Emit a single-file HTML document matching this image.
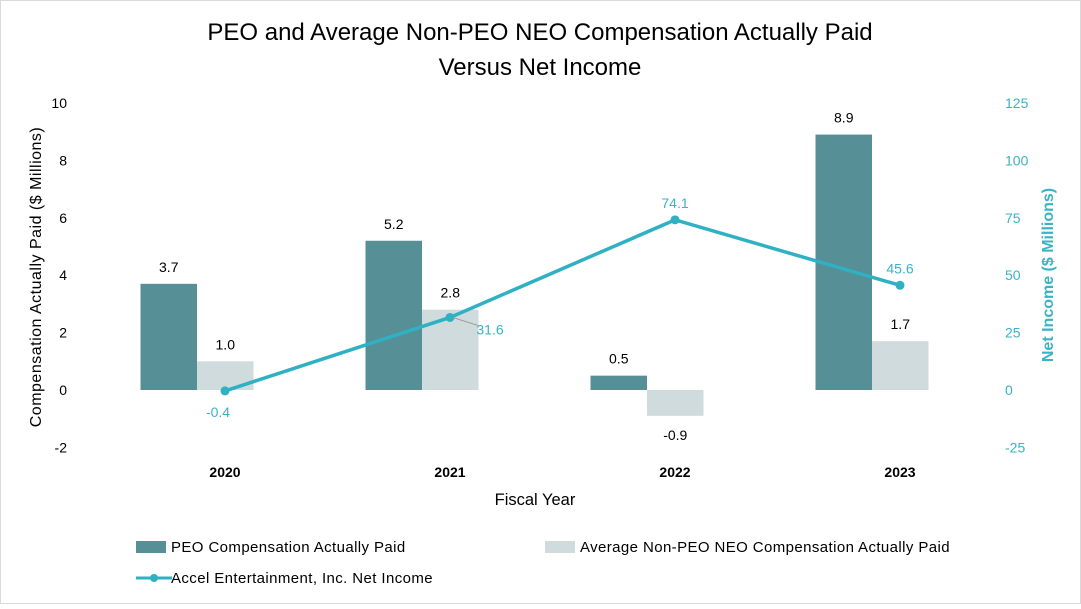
<!DOCTYPE html>
<html><head><meta charset="utf-8"><style>
body{margin:0;background:#fff;font-family:"Liberation Sans",Arial,sans-serif}
svg text{font-family:"Liberation Sans",Arial,sans-serif}
</style></head><body>
<svg id="c" width="1081" height="604">
<rect x="0.5" y="0.5" width="1080" height="603" fill="#fff" stroke="#d9d9d9"/>
<text x="540" y="40" text-anchor="middle" font-size="24" fill="#000">PEO and Average Non-PEO NEO Compensation Actually Paid</text>
<text x="540" y="75" text-anchor="middle" font-size="24" fill="#000">Versus Net Income</text>
<g id="g"></g>
<text transform="translate(41,277) rotate(-90)" text-anchor="middle" font-size="16" letter-spacing="0.5" fill="#000">Compensation Actually Paid ($ Millions)</text>
<text transform="translate(1053,275) rotate(-90)" text-anchor="middle" font-size="16" font-weight="bold" fill="#3ab3c4">Net Income ($ Millions)</text>
<text x="535" y="505" text-anchor="middle" font-size="16.5" fill="#000">Fiscal Year</text>
<g font-size="15" letter-spacing="0.4">
<rect x="136" y="541" width="30" height="12" fill="#578f96"/>
<text x="171" y="552">PEO Compensation Actually Paid</text>
<rect x="545" y="541" width="30" height="12" fill="#cfdbdd"/>
<text x="580" y="552">Average Non-PEO NEO Compensation Actually Paid</text>
<line x1="136" y1="578" x2="172" y2="578" stroke="#2fb1c3" stroke-width="3"/>
<circle cx="154" cy="578" r="4" fill="#2fb1c3"/>
<text x="171" y="583">Accel Entertainment, Inc. Net Income</text>
</g>
</svg>
<script>
const categories=["2020","2021","2022","2023"];
const peo=[3.7,5.2,0.5,8.9];
const neo=[1.0,2.8,-0.9,1.7];
const netIncome=[-0.4,31.6,74.1,45.6];
const leftTicks=[-2,0,2,4,6,8,10];
const rightTicks=[-25,0,25,50,75,100,125];
const NS="http://www.w3.org/2000/svg",g=document.getElementById("g");
const yL=v=>390-v*28.7, yR=v=>390-v*2.296;
const xC=i=>197+i*225, bw=56.5;
function el(t,a,txt){const e=document.createElementNS(NS,t);for(const k in a)e.setAttribute(k,a[k]);if(txt!==undefined)e.textContent=txt;g.appendChild(e);return e;}
leftTicks.forEach(v=>{const e=el("text",{x:67,y:yL(v)+5,"text-anchor":"end","font-size":14,fill:"#000"},v);

});
rightTicks.forEach(v=>{const e=el("text",{x:1005,y:yR(v)+5,"font-size":14,fill:"#3ab3c4"},v);

});
categories.forEach((c,i)=>{const e=el("text",{x:xC(i)+28,y:477,"text-anchor":"middle","font-size":14,"font-weight":"bold"},c);

});
function bar(v,x,col,nm){const y0=yL(0),y1=yL(v);const r=el("rect",{x:x,y:Math.min(y0,y1),width:bw,height:Math.abs(y1-y0),fill:col});


const t=el("text",{x:x+bw/2,y:v>=0?y1-12:y1+24,"text-anchor":"middle","font-size":14},v.toFixed(1));

}
categories.forEach((c,i)=>{bar(peo[i],xC(i)-bw,"#578f96","bar-peo-"+c);bar(neo[i],xC(i),"#cfdbdd","bar-neo-"+c);});
const pts=netIncome.map((v,i)=>[xC(i)+28,yR(v)]);
const pl=el("polyline",{points:pts.map(p=>p.join(",")).join(" "),fill:"none",stroke:"#2fb1c3","stroke-width":3.5});


const off=[[-7,21],[40,12],[0,-17],[0,-17]];
pts.forEach((p,i)=>{const c=el("circle",{cx:p[0],cy:p[1],r:4.5,fill:"#2fb1c3"});


if(i==1){const l=el("polyline",{points:`${p[0]+3},${p[1]} ${p[0]+12},${p[1]+3} ${p[0]+28},${p[1]+8}`,fill:"none",stroke:"#999","stroke-width":1});

}
const t=el("text",{x:p[0]+off[i][0],y:p[1]+off[i][1]+5,"text-anchor":"middle","font-size":14,fill:"#3ab3c4"},netIncome[i].toFixed(1));

});
</script>
</body></html>
